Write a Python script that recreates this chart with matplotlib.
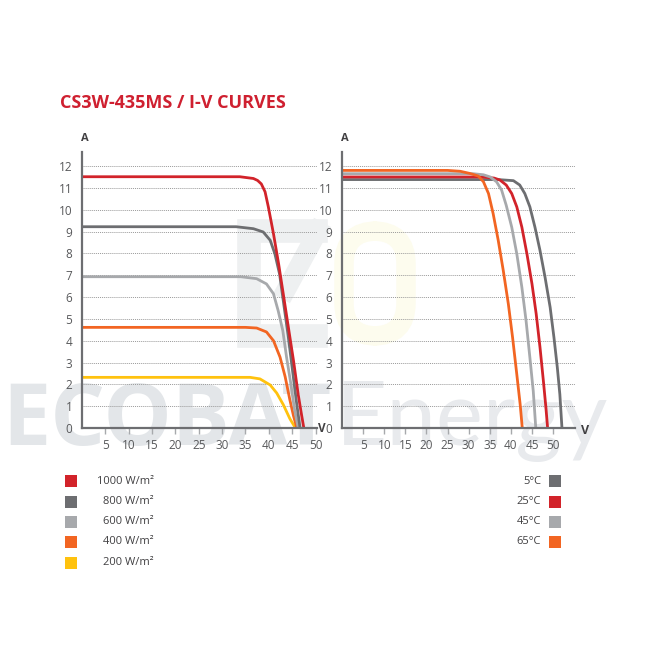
import matplotlib
matplotlib.use('Agg')
import matplotlib.pyplot as plt
from matplotlib.patches import Rectangle, FancyBboxPatch
from matplotlib.lines import Line2D

# ---------------- data ----------------
title = 'CS3W-435MS / I-V CURVES'
x_ticks = [5, 10, 15, 20, 25, 30, 35, 40, 45, 50]
y_ticks = [0, 1, 2, 3, 4, 5, 6, 7, 8, 9, 10, 11, 12]

irr_labels = ['1000 W/m²', '800 W/m²', '600 W/m²', '400 W/m²', '200 W/m²']
temp_labels = ['5°C', '25°C', '45°C', '65°C']

# irradiance curves (left chart), voltage V / current A
v_1000 = [0, 33.8, 36.7, 37.6, 38.4, 39.2, 39.9, 41.0, 42.1, 43.1, 44.2, 45.3, 46.3, 47.0, 47.5]
i_1000 = [11.51, 11.51, 11.43, 11.34, 11.18, 10.82, 10.13, 8.9, 7.52, 6.14, 4.6, 3.07, 1.53, 0.62, 0]
v_800 = [0, 33, 36.7, 38.8, 40.3, 41.3, 42.3, 43.1, 44.1, 45.0, 45.9, 46.7]
i_800 = [9.22, 9.22, 9.13, 8.98, 8.6, 7.98, 7.06, 5.83, 4.3, 2.77, 1.23, 0]
v_600 = [0, 34, 37.4, 39.5, 41.0, 42.0, 43.0, 43.8, 44.7, 45.5, 46.3]
i_600 = [6.93, 6.93, 6.84, 6.6, 6.15, 5.38, 4.46, 3.25, 2.05, 0.86, 0]
v_400 = [0, 35, 37.4, 39.5, 41.0, 42.4, 43.5, 44.5, 45.3, 46.0]
i_400 = [4.61, 4.61, 4.58, 4.4, 4.0, 3.25, 2.35, 1.3, 0.55, 0]
v_200 = [0, 36, 38.1, 40.3, 41.7, 43.1, 44.5, 45.7]
i_200 = [2.32, 2.32, 2.25, 1.97, 1.6, 1.07, 0.43, 0]

# temperature curves (right chart)
v_5c = [0, 37, 40.6, 42.1, 43.3, 44.5, 45.7, 46.9, 48.1, 49.3, 50.2, 51.0, 51.6, 52.1]
i_5c = [11.38, 11.38, 11.33, 11.13, 10.74, 10.13, 9.2, 8.13, 6.9, 5.53, 4.15, 2.77, 1.54, 0]
v_25c = [0, 33, 36, 37.4, 38.9, 40.2, 41.4, 42.6, 43.8, 45.0, 46.0, 46.9, 47.7, 48.3, 48.7]
i_25c = [11.5, 11.5, 11.45, 11.36, 11.13, 10.74, 10.13, 9.2, 7.98, 6.6, 5.22, 3.69, 2.15, 0.93, 0]
v_45c = [0, 31, 33.5, 35.1, 36.6, 37.8, 38.9, 40.2, 41.4, 42.6, 43.6, 44.5, 45.3, 45.9]
i_45c = [11.65, 11.65, 11.6, 11.5, 11.28, 10.9, 10.2, 9.2, 7.98, 6.45, 4.91, 3.23, 1.69, 0]
v_65c = [0, 25, 28, 30.3, 32.3, 33.5, 34.7, 35.8, 37.0, 38.2, 39.4, 40.4, 41.4, 42.2, 42.7]
i_65c = [11.8, 11.8, 11.76, 11.66, 11.54, 11.28, 10.74, 9.82, 8.6, 7.21, 5.68, 4.15, 2.46, 1.08, 0]

# ---------------- style ----------------
RED = '#d2232a'
DGRAY = '#6d6e71'
LGRAY = '#a7a9ac'
ORANGE = '#f26522'
YELLOW = '#ffc20e'
irr_colors = [RED, DGRAY, LGRAY, ORANGE, YELLOW]
temp_colors = [DGRAY, RED, LGRAY, ORANGE]
TXT = '#58595b'

plt.rcParams['font.family'] = ['Open Sans', 'DejaVu Sans']

W = 660
fig = plt.figure(figsize=(6.6, 6.6), dpi=100)
fig.patch.set_facecolor('white')


def fx(px):
    return px / W


def fy(py):
    return 1 - py / W


# ---- faint watermark (logo + company name) ----
fig.add_artist(Line2D([fx(316), fx(249), fx(249), fx(316)],
                      [fy(231), fy(231), fy(336), fy(336)],
                      transform=fig.transFigure, color='#eef0f1', lw=17,
                      solid_joinstyle='miter', zorder=-3))
fig.add_artist(Line2D([fx(318), fx(286)], [fy(231), fy(290)],
                      transform=fig.transFigure, color='#eef0f1', lw=14, zorder=-3))
fig.add_artist(FancyBboxPatch((fx(344), fy(336)), 62 / W, 105 / W,
                              boxstyle='round,pad=0,rounding_size=0.05',
                              transform=fig.transFigure, facecolor='none',
                              edgecolor='#fdfcee', lw=14, zorder=-3))
fig.text(fx(2), fy(445), 'ECOBAT', fontsize=62, fontweight='bold', color='#e3e6e9',
         ha='left', va='baseline', zorder=-2)
fig.text(fx(336), fy(445), 'Energy', fontsize=64, fontweight='normal', color='#e8eaed',
         family=['Lato', 'DejaVu Sans'], ha='left', va='baseline', zorder=-2)

# title
fig.text(fx(60), fy(103), title, fontsize=13, fontweight='bold', color='#cf2030',
         ha='left', va='center')

PX_PER_A = 21.83


def make_axes(left_px, width_px, px_per_v):
    ax = fig.add_axes([fx(left_px), fy(428), width_px / W, 276 / W])
    ax.patch.set_alpha(0)
    ax.set_xlim(0, width_px / px_per_v)
    ax.set_ylim(0, 276 / PX_PER_A)
    for s in ['top', 'right']:
        ax.spines[s].set_visible(False)
    for s in ['left', 'bottom']:
        ax.spines[s].set_color(DGRAY)
        ax.spines[s].set_linewidth(1.6)
        ax.spines[s].set_zorder(5)
    ax.set_xticks(x_ticks)
    ax.set_yticks(y_ticks)
    ax.tick_params(axis='x', direction='out', length=4, width=1, color=LGRAY,
                   pad=4, labelsize=8.5, labelcolor=TXT)
    ax.tick_params(axis='y', length=0, pad=7, labelsize=8.5, labelcolor=TXT)
    ax.yaxis.grid(True, linestyle=(0, (1, 1)), color='#9a9a9a', linewidth=0.7)
    ax.set_axisbelow(True)
    ax.text(0.013, 1.05, 'A', transform=ax.transAxes, fontsize=8, fontweight='bold',
            color='#414042', ha='center', va='center')
    return ax


ax1 = make_axes(82, 235, 4.67)
ax2 = make_axes(342, 233, 4.222)

ax1.text(1.005, 0.0, 'V', transform=ax1.transAxes, fontsize=8.5, fontweight='bold',
         color='#414042', ha='left', va='center')
ax2.text(1.025, -0.01, 'V', transform=ax2.transAxes, fontsize=9, fontweight='bold',
         color='#414042', ha='left', va='center')

LW = 2.0
left_curves = [(v_200, i_200, YELLOW), (v_400, i_400, ORANGE), (v_600, i_600, LGRAY),
               (v_800, i_800, DGRAY), (v_1000, i_1000, RED)]
for v, i, c in left_curves:
    ax1.plot(v, i, color=c, lw=LW, solid_joinstyle='round', solid_capstyle='butt',
             clip_on=False, zorder=3)

right_curves = [(v_5c, i_5c, DGRAY), (v_25c, i_25c, RED), (v_45c, i_45c, LGRAY),
                (v_65c, i_65c, ORANGE)]
for v, i, c in right_curves:
    ax2.plot(v, i, color=c, lw=LW, solid_joinstyle='round', solid_capstyle='butt',
             clip_on=False, zorder=3)

# legends
row_y = [481, 501.5, 521.5, 542, 562.5]
for k, (lab, col) in enumerate(zip(irr_labels, irr_colors)):
    y = row_y[k]
    fig.add_artist(Rectangle((fx(65), fy(y + 6)), 12 / W, 12 / W, transform=fig.transFigure,
                             facecolor=col, edgecolor='none'))
    fig.text(fx(154), fy(y), lab, fontsize=8, color='#414042', ha='right', va='center')

for k, (lab, col) in enumerate(zip(temp_labels, temp_colors)):
    y = row_y[k]
    fig.add_artist(Rectangle((fx(549), fy(y + 6)), 12 / W, 12 / W, transform=fig.transFigure,
                             facecolor=col, edgecolor='none'))
    fig.text(fx(541), fy(y), lab, fontsize=8, color='#414042', ha='right', va='center')

fig.savefig('out.png', dpi=100, facecolor='white')
